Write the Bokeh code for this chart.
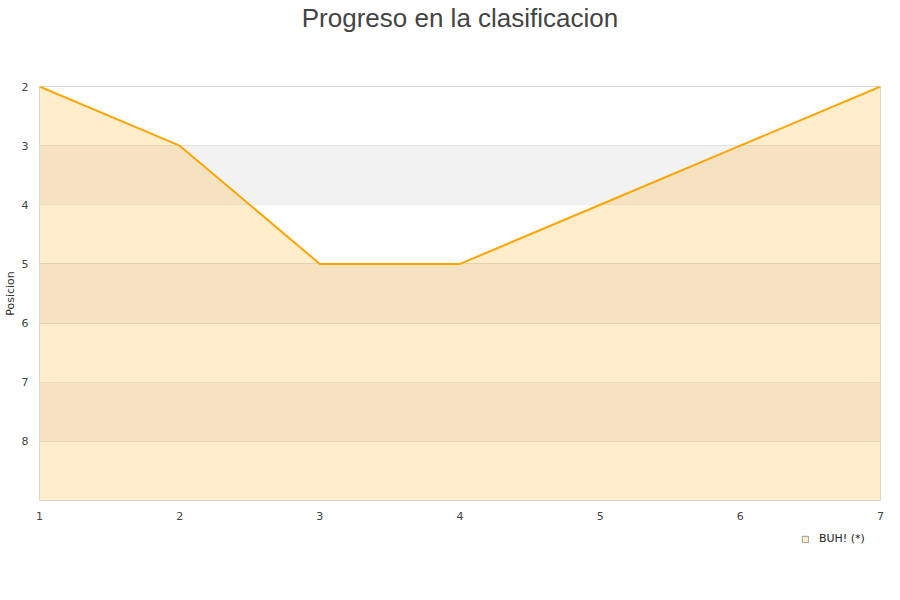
from bokeh.plotting import figure
from bokeh.layouts import column
from bokeh.models import (Range1d, FixedTicker, BoxAnnotation, Legend, LegendItem,
                          ColumnDataSource, Title)
from bokeh.embed import file_html
from bokeh.resources import INLINE

# Jornadas y posición en la clasificación
jornadas = [1, 2, 3, 4, 5, 6, 7]
posiciones = [2, 3, 5, 5, 4, 3, 2]
serie = "BUH! (*)"

x_ticks = [1, 2, 3, 4, 5, 6, 7]
y_ticks = [2, 3, 4, 5, 6, 7, 8]
y_top, y_bottom = 2, 9
bandas = [(3, 4), (5, 6), (7, 8)]

FONT = "DejaVu Sans"

p = figure(width=900, height=530, output_backend="svg", toolbar_location=None,
           x_range=Range1d(jornadas[0], jornadas[-1]),
           y_range=Range1d(y_bottom, y_top),
           min_border_left=38, min_border_right=20,
           min_border_top=86, min_border_bottom=30)

# blank spacer between the frame and the title
p.add_layout(Title(text=" ", text_font_size="26px", standoff=22), "above")

p.title.text = "Progreso en la clasificacion"
p.title.text_font = "Liberation Sans"
p.title.text_font_size = "26px"
p.title.text_font_style = "normal"
p.title.text_color = "#444444"
p.title.align = "center"
p.title.standoff = 0

p.background_fill_color = "white"
p.border_fill_color = "white"
p.outline_line_color = "#d8d8d8"

# alternating horizontal bands
for lo, hi in bandas:
    p.add_layout(BoxAnnotation(bottom=lo, top=hi, fill_color="#f2f2f2",
                               fill_alpha=1.0, line_alpha=0, level="underlay"))

src = ColumnDataSource(dict(x=jornadas, y=posiciones,
                            base=[y_bottom] * len(jornadas)))
p.varea(x="x", y1="y", y2="base", source=src,
        fill_color="#ffa500", fill_alpha=0.2)
p.line(x="x", y="y", source=src, line_color="#ffa500", line_width=2)

for ax in (p.xaxis[0], p.yaxis[0]):
    ax.axis_line_color = None
    ax.major_tick_line_color = None
    ax.minor_tick_line_color = None
    ax.major_label_text_font = FONT
    ax.major_label_text_font_size = "11px"
    ax.major_label_text_color = "#444444"

p.xaxis.ticker = FixedTicker(ticks=x_ticks)
p.yaxis.ticker = FixedTicker(ticks=y_ticks)
p.xaxis.major_label_standoff = 5
p.yaxis.major_label_standoff = 5

p.yaxis.axis_label = "Posicion"
p.yaxis.axis_label_text_font = FONT
p.yaxis.axis_label_text_font_size = "11px"
p.yaxis.axis_label_text_font_style = "normal"
p.yaxis.axis_label_text_color = "#333333"
p.yaxis.axis_label_standoff = 2

p.xgrid.grid_line_color = None
p.ygrid.ticker = FixedTicker(ticks=y_ticks)
p.ygrid.grid_line_color = "#dcdcdc"
p.ygrid.grid_line_width = 1

# legend strip under the chart
leg = figure(width=900, height=70, output_backend="svg", toolbar_location=None,
             x_range=Range1d(0, 1), y_range=Range1d(0, 1),
             x_axis_type=None, y_axis_type=None,
             min_border=0, outline_line_color=None)
leg.grid.visible = False
swatch = leg.block(x="x", y="y", width=0, height=0, source=src,
                   fill_color="#ffedcc", line_color="#999999", line_width=1)
swatch.visible = False

legend = Legend(items=[LegendItem(label=serie, renderers=[swatch])],
                orientation="horizontal", location=(760, 53),
                label_text_font=FONT, label_text_font_size="11px",
                label_text_font_style="normal",
                label_text_color="#222222",
                glyph_width=8, glyph_height=8,
                border_line_alpha=0, background_fill_alpha=0,
                padding=2, margin=0, label_standoff=10)
leg.add_layout(legend, "center")

layout = column(p, leg, spacing=0)
open("out.html", "w").write(file_html(layout, INLINE))
